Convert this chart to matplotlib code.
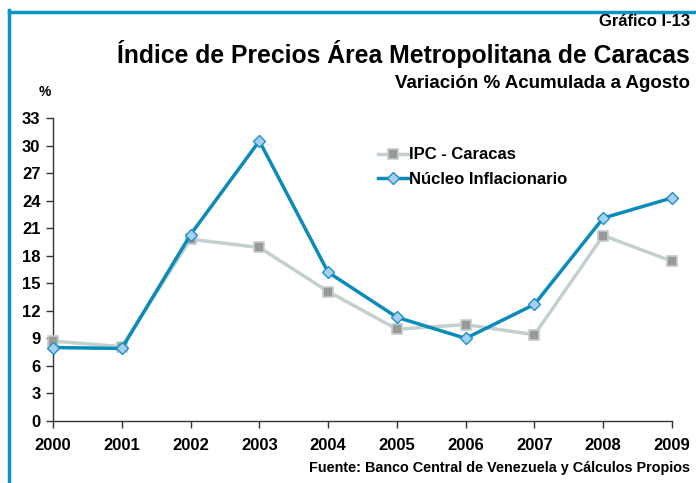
import matplotlib
matplotlib.use('Agg')
import matplotlib.pyplot as plt
from matplotlib.lines import Line2D

plt.rcParams['font.family'] = ['Liberation Sans', 'DejaVu Sans']
plt.rcParams['font.weight'] = 'bold'

# Datos
anios = [2000, 2001, 2002, 2003, 2004, 2005, 2006, 2007, 2008, 2009]
ipc_caracas = [8.7, 8.1, 19.8, 18.9, 14.1, 10.0, 10.5, 9.4, 20.2, 17.4]
nucleo = [8.0, 7.9, 20.3, 30.5, 16.2, 11.3, 9.0, 12.7, 22.1, 24.3]
yticks = list(range(0, 34, 3))

azul = '#0B8BBA'
borde = '#0A93C4'

fig = plt.figure(figsize=(6.96, 4.83), dpi=100)
ax = fig.add_axes([53 / 696, 62 / 483, 619 / 696, 303 / 483])

ax.plot(anios, ipc_caracas, color='#C4D0D0', lw=2.5, marker='s', ms=7,
        mfc='#999999', mec='#C4CCCC', mew=1.2, clip_on=False, zorder=3,
        label='IPC - Caracas')
ax.plot(anios, nucleo, color=azul, lw=2.5, marker='D', ms=6,
        mfc='#A6CFF0', mec='#1E90C8', mew=1, clip_on=False, zorder=4,
        label='Núcleo Inflacionario')

ax.set_xlim(2000, 2009)
ax.set_ylim(0, 33)
ax.set_xticks(anios)
ax.set_yticks(yticks)
ax.tick_params(axis='both', labelsize=12, length=5, width=1, color='#333333')
ax.tick_params(axis='x', pad=7)
ax.tick_params(axis='y', pad=4)
for s in ['top', 'right']:
    ax.spines[s].set_visible(False)
for s in ['left', 'bottom']:
    ax.spines[s].set_color('#333333')
    ax.spines[s].set_linewidth(1)

ax.legend(loc='upper left', bbox_to_anchor=(0.515, 0.925), frameon=False,
          fontsize=12, handlelength=1.75, handletextpad=0.1, labelspacing=0.55,
          borderaxespad=0)

# Textos
fig.text(690 / 696, 1 - 21 / 483, 'Gráfico I-13', ha='right', va='center', fontsize=12)
fig.text(690 / 696, 1 - 54 / 483, 'Índice de Precios Área Metropolitana de Caracas',
         ha='right', va='center', fontsize=17.8)
fig.text(690 / 696, 1 - 84 / 483, 'Variación % Acumulada a Agosto',
         ha='right', va='center', fontsize=13.5)
fig.text(45 / 696, 1 - 92 / 483, '%', ha='center', va='center', fontsize=10)
fig.text(690 / 696, 1 - 468 / 483, 'Fuente: Banco Central de Venezuela y Cálculos Propios',
         ha='right', va='center', fontsize=10.4)

# Marco
fig.add_artist(Line2D([8.5 / 696, 1], [1 - 11.5 / 483, 1 - 11.5 / 483],
                      color=borde, lw=2.5, transform=fig.transFigure))
fig.add_artist(Line2D([8.5 / 696, 8.5 / 696], [0, 1 - 10 / 483],
                      color=borde, lw=2.5, transform=fig.transFigure))

fig.savefig('out.png', dpi=100)
